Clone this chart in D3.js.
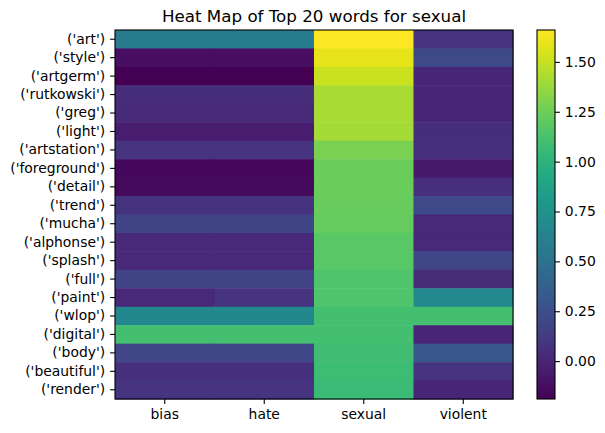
<!DOCTYPE html>
<html>
<head>
<meta charset="utf-8">
<script src="https://cdn.jsdelivr.net/npm/d3@7"></script>
<style>
  body{ margin:0; background:#fff; }
  svg{ display:block; font-family:"DejaVu Sans", sans-serif; }
</style>
</head>
<body>
<svg id="chart" width="605" height="433"></svg>
<script>
// data
const words = ["('art')","('style')","('artgerm')","('rutkowski')","('greg')","('light')",
  "('artstation')","('foreground')","('detail')","('trend')","('mucha')","('alphonse')",
  "('splash')","('full')","('paint')","('wlop')","('digital')","('body')","('beautiful')","('render')"];
const categories = ["bias","hate","sexual","violent"];
const bias    = [0.57,-0.12,-0.19,0.05,0.03,-0.04,0.09,-0.15,-0.14,0.08,0.18,0.02,0.02,0.18,0.02,0.67,1.11,0.20,0.07,0.09];
const hate    = [0.57,-0.12,-0.19,0.05,0.03,-0.04,0.09,-0.15,-0.14,0.08,0.18,0.02,0.02,0.18,0.09,0.67,1.11,0.20,0.07,0.09];
const sexual  = [1.66,1.59,1.51,1.42,1.42,1.41,1.29,1.24,1.24,1.23,1.22,1.18,1.18,1.15,1.15,1.11,1.11,1.09,1.08,1.07];
const violent = [0.09,0.22,0.01,0.00,0.01,0.05,0.06,-0.06,0.06,0.22,0.02,0.02,0.20,0.04,0.68,1.11,0.00,0.31,0.09,0.00];
const cbTicks = [0.00,0.25,0.50,0.75,1.00,1.25,1.50];

const series = {bias, hate, sexual, violent};
const cells = [];
words.forEach((w,i)=>categories.forEach(c=>cells.push({word:w, cat:c, value:series[c][i]})));

const vmin = d3.min(cells, d=>d.value), vmax = d3.max(cells, d=>d.value);
const color = d3.scaleSequential(d3.interpolateViridis).domain([vmin, vmax]);

const svg = d3.select("#chart");
const plot = {left:115, right:513, top:30, bottom:399};
const tickLen = 4.9, tickPad = 4.9, fontSize = 13.9;

const x = d3.scaleBand().domain(categories).range([plot.left, plot.right]);
const y = d3.scaleBand().domain(words).range([plot.top, plot.bottom]);

svg.append("g").selectAll("rect")
    .data(cells)
    .enter()
    .append("rect")
    .attr("x", d=>x(d.cat))
    .attr("y", d=>y(d.word))
    .attr("width", x.bandwidth()+0.5)
    .attr("height", y.bandwidth()+0.5)
    .attr("fill", d=>color(d.value));

svg.append("rect")
    .attr("x", plot.left).attr("y", plot.top)
    .attr("width", plot.right-plot.left).attr("height", plot.bottom-plot.top)
    .attr("fill","none").attr("stroke","#000").attr("stroke-width",1.1);

// axes
const yAxis = svg.append("g")
    .attr("transform", `translate(${plot.left},0)`)
    .call(d3.axisLeft(y).tickSize(tickLen).tickPadding(tickPad));
const xAxis = svg.append("g")
    .attr("transform", `translate(0,${plot.bottom})`)
    .call(d3.axisBottom(x).tickSize(tickLen).tickPadding(tickPad));
[yAxis, xAxis].forEach(g=>{
  g.select(".domain").remove();
  g.selectAll("text").attr("font-size", fontSize).attr("fill","#000").attr("font-family","DejaVu Sans");
  g.selectAll("line").attr("stroke","#000").attr("stroke-width",1.1);
});

// title
svg.append("text")
    .attr("x", (plot.left+plot.right)/2).attr("y", 22)
    .attr("text-anchor","middle")
    .attr("font-size", 16.7)
    .text("Heat Map of Top 20 words for sexual");

// colorbar
const cb = {left:537, right:555, top:30, bottom:399};
const cy = d3.scaleLinear().domain([vmin, vmax]).range([cb.bottom, cb.top]);
const grad = svg.append("defs").append("linearGradient")
    .attr("id","cbGrad").attr("x1",0).attr("y1",1).attr("x2",0).attr("y2",0);
d3.range(0, 1.0001, 0.05).forEach(t=>{
  grad.append("stop").attr("offset", t).attr("stop-color", d3.interpolateViridis(t));
});
svg.append("rect")
    .attr("x", cb.left).attr("y", cb.top)
    .attr("width", cb.right-cb.left).attr("height", cb.bottom-cb.top)
    .attr("fill","url(#cbGrad)").attr("stroke","#000").attr("stroke-width",1.1);
const cAxis = svg.append("g")
    .attr("transform", `translate(${cb.right},0)`)
    .call(d3.axisRight(cy).tickValues(cbTicks).tickFormat(d3.format(".2f")).tickSize(tickLen).tickPadding(tickPad));
cAxis.select(".domain").remove();
cAxis.selectAll("text").attr("font-size", fontSize).attr("fill","#000").attr("font-family","DejaVu Sans");
cAxis.selectAll("line").attr("stroke","#000").attr("stroke-width",1.1);
</script>
</body>
</html>
